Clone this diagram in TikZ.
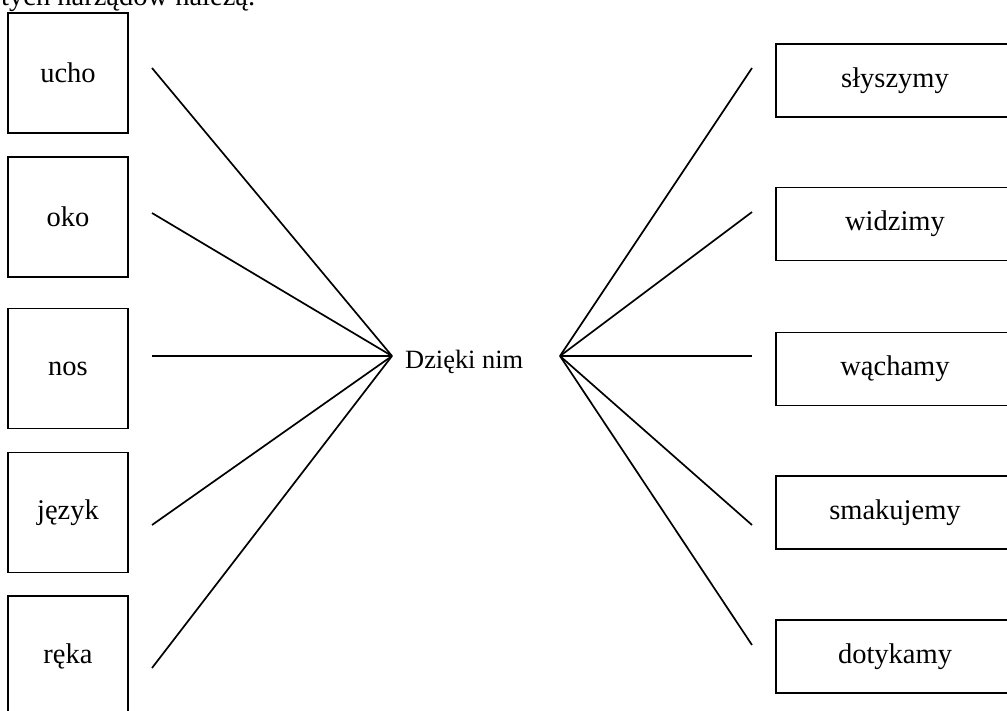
\documentclass[tikz,border=0pt]{standalone}
\usepackage{fontspec}
\setmainfont{Liberation Serif}
\begin{document}
\begin{tikzpicture}[x=1pt,y=-1pt,
  organ/.style={draw,line width=1.8pt,minimum width=120pt,minimum height=120pt,inner sep=0pt,font=\fontsize{28.5}{34}\selectfont},
  sense/.style={draw,line width=1.8pt,minimum width=238pt,minimum height=73pt,inner sep=0pt,font=\fontsize{28.5}{34}\selectfont},
  link/.style={line width=1.7pt}]
\path[use as bounding box,clip] (0,0) rectangle (1007,711);
\node[anchor=base west,inner sep=0pt,font=\fontsize{28.5}{34}\selectfont] (head) at (1,6) {tych narządów należą.};
% left boxes
\node[organ] (ucho) at (68,73) {ucho};
\node[organ] (oko) at (68,217) {oko};
\node[organ] (nos) at (68,368.5) {nos};
\node[organ] (jezyk) at (68,512.5) {język};
\node[organ] (reka) at (68,656) {ręka};
% right boxes
\node[sense] (s1) at (895,80.5) {słyszymy};
\node[sense] (s2) at (895,224) {widzimy};
\node[sense] (s3) at (895,369) {wąchamy};
\node[sense] (s4) at (895,512.5) {smakujemy};
\node[sense] (s5) at (895,656.5) {dotykamy};
% centre
\node[anchor=base west,inner sep=0pt,font=\fontsize{26.4}{31}\selectfont] (dz) at (405,368) {Dzięki nim};
\coordinate (cl) at (392,356);
\coordinate (cr) at (560,356);
% line ends
\coordinate (l1) at (152,68);
\coordinate (l2) at (152,213);
\coordinate (l3) at (152,356);
\coordinate (l4) at (152,525);
\coordinate (l5) at (152,668);
\coordinate (r1) at (752,68);
\coordinate (r2) at (752,212);
\coordinate (r3) at (752,356);
\coordinate (r4) at (752,525);
\coordinate (r5) at (752,645);
\foreach \i in {1,...,5} {
  \draw[link] (l\i) -- (cl);
  \draw[link] (cr) -- (r\i);
}
\end{tikzpicture}
\end{document}
